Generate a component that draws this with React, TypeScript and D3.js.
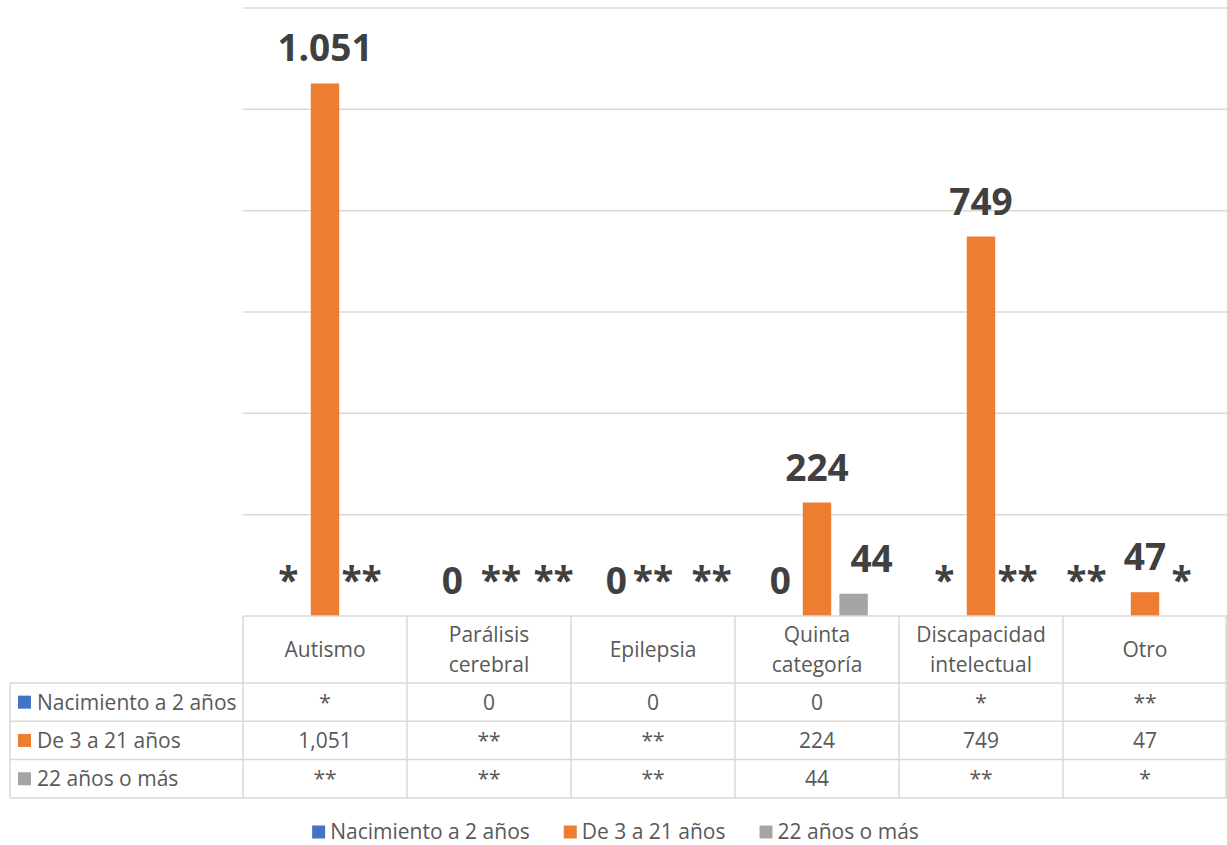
import { useEffect, useRef } from "react";
import * as d3 from "d3";

const categories = ["Autismo", "Parálisis\ncerebral", "Epilepsia", "Quinta\ncategoría", "Discapacidad\nintelectual", "Otro"];
const seriesNames = ["Nacimiento a 2 años", "De 3 a 21 años", "22 años o más"];
const seriesColors = ["#4472C4", "#ED7D31", "#A5A5A5"];
// "*" and "**" are suppressed counts, kept as text
const nacimiento: (number | string)[] = ["*", 0, 0, 0, "*", "**"];
const de3a21: (number | string)[] = [1051, "**", "**", 224, 749, 47];
const mas22: (number | string)[] = ["**", "**", "**", 44, "**", "*"];
const yTicks = [0, 200, 400, 600, 800, 1000, 1200];

// Excel pushed some crowded labels sideways (px, per category, per series)
const labelNudge = [[0, 0, 0], [0, 12, 28], [0, 0, 22], [0, 0, 18], [0, 0, 0], [-22, 0, 0]];

const W = 1227, H = 845;
const FONT = "'Open Sans', sans-serif";
const GRID = "#D9D9D9";
const TXT = "#595959";
const FS = 21;

export default function App() {
  const ref = useRef<SVGSVGElement>(null);

  useEffect(() => {
    const svg = d3.select(ref.current);
    svg.selectAll("*").remove();
    const series = [nacimiento, de3a21, mas22];

    const left = 243, right = 1227, base = 616, top = 8;
    const x0 = d3.scaleBand<string>().domain(categories).range([left, right]);
    const x1 = d3.scaleBand<string>().domain(seriesNames).range([0, x0.bandwidth()])
      .paddingInner(0.224).paddingOuter(0.852);
    const y = d3.scaleLinear().domain([0, 1200]).range([base, top]);

    const es = d3.formatLocale({ decimal: ",", thousands: ".", grouping: [3], currency: ["", "€"] }).format(",");
    const en = d3.format(",");

    // gridlines
    svg.append("g").selectAll("line").data(yTicks.slice(1)).join("line")
      .attr("x1", left).attr("x2", right)
      .attr("y1", d => y(d)).attr("y2", d => y(d))
      .attr("stroke", GRID).attr("stroke-width", 1.5);

    // bars
    series.forEach((vals, s) => {
      svg.append("g").selectAll("rect")
        .data(vals.map((v, i) => ({ v, c: categories[i] })).filter(d => typeof d.v === "number" && (d.v as number) > 0))
        .join("rect")
        .attr("x", d => x0(d.c)! + x1(seriesNames[s])!)
        .attr("width", x1.bandwidth())
        .attr("y", d => y(d.v as number))
        .attr("height", d => y(0) - y(d.v as number))
        .attr("fill", seriesColors[s]);
    });

    // data labels
    series.forEach((vals, s) => {
      svg.append("g").selectAll("text")
        .data(vals.map((v, i) => ({ v, i })))
        .join("text")
        .attr("x", d => x0(categories[d.i])! + x1(seriesNames[s])! + x1.bandwidth() / 2 + labelNudge[d.i][s])
        .attr("y", d => y(typeof d.v === "number" ? d.v : 0) - 22)
        .attr("text-anchor", "middle")
        .attr("font-family", FONT).attr("font-weight", 700).attr("font-size", 37)
        .attr("fill", "#404040")
        .text(d => (typeof d.v === "number" ? es(d.v) : d.v));
    });

    // data table
    const hdrBottom = 683, rowH = 38.3, tblLeft = 10;
    const tblBottom = hdrBottom + rowH * 3;
    const t = svg.append("g");
    const hLines = [base, hdrBottom, hdrBottom + rowH, hdrBottom + 2 * rowH, tblBottom];
    hLines.forEach((yy, k) => {
      t.append("line").attr("x1", k === 0 ? left : tblLeft).attr("x2", right)
        .attr("y1", yy).attr("y2", yy).attr("stroke", GRID).attr("stroke-width", 1.5);
    });
    t.append("line").attr("x1", tblLeft).attr("x2", tblLeft).attr("y1", hdrBottom).attr("y2", tblBottom)
      .attr("stroke", GRID).attr("stroke-width", 1.5);
    const vx = categories.map(c => x0(c)!).concat([right - 1]);
    vx.forEach(xx => {
      t.append("line").attr("x1", xx).attr("x2", xx).attr("y1", base).attr("y2", tblBottom)
        .attr("stroke", GRID).attr("stroke-width", 1.5);
    });

    categories.forEach(c => {
      const lines = c.split("\n");
      const cx = x0(c)! + x0.bandwidth() / 2;
      const mid = (base + hdrBottom) / 2;
      lines.forEach((ln, j) => {
        t.append("text").attr("x", cx)
          .attr("y", mid + (j - (lines.length - 1) / 2) * 30)
          .attr("dy", "0.35em").attr("text-anchor", "middle")
          .attr("font-family", FONT).attr("font-size", FS).attr("fill", TXT)
          .text(ln);
      });
    });

    series.forEach((vals, s) => {
      const cy = hdrBottom + rowH * s + rowH / 2;
      t.append("rect").attr("x", 18).attr("y", cy - 6.5).attr("width", 13).attr("height", 13)
        .attr("fill", seriesColors[s]);
      t.append("text").attr("x", 37).attr("y", cy).attr("dy", "0.35em")
        .attr("font-family", FONT).attr("font-size", FS).attr("fill", TXT)
        .text(seriesNames[s]);
      vals.forEach((v, i) => {
        t.append("text").attr("x", x0(categories[i])! + x0.bandwidth() / 2).attr("y", cy)
          .attr("dy", "0.35em").attr("text-anchor", "middle")
          .attr("font-family", FONT).attr("font-size", FS).attr("fill", TXT)
          .text(typeof v === "number" ? en(v) : v);
      });
    });

    // legend
    const lg = svg.append("g");
    const ly = 832;
    const gap = 34;
    let cursor = 0;
    seriesNames.forEach((name, s) => {
      const g = lg.append("g");
      g.append("rect").attr("x", 0).attr("y", ly - 6.5).attr("width", 13).attr("height", 13)
        .attr("fill", seriesColors[s]);
      const tx = g.append("text").attr("x", 18).attr("y", ly).attr("dy", "0.35em")
        .attr("font-family", FONT).attr("font-size", FS).attr("fill", TXT).text(name);
      const w = 18 + (tx.node() as SVGTextElement).getComputedTextLength();
      g.attr("transform", `translate(${cursor},0)`);
      cursor += w + gap;
    });
    const total = cursor - gap;
    lg.attr("transform", `translate(${(W - total) / 2 + 2},0)`);
  }, []);

  return (
    <svg ref={ref} width={W} height={H}
      style={{ position: "absolute", left: 0, top: 0, background: "#fff" }} />
  );
}
